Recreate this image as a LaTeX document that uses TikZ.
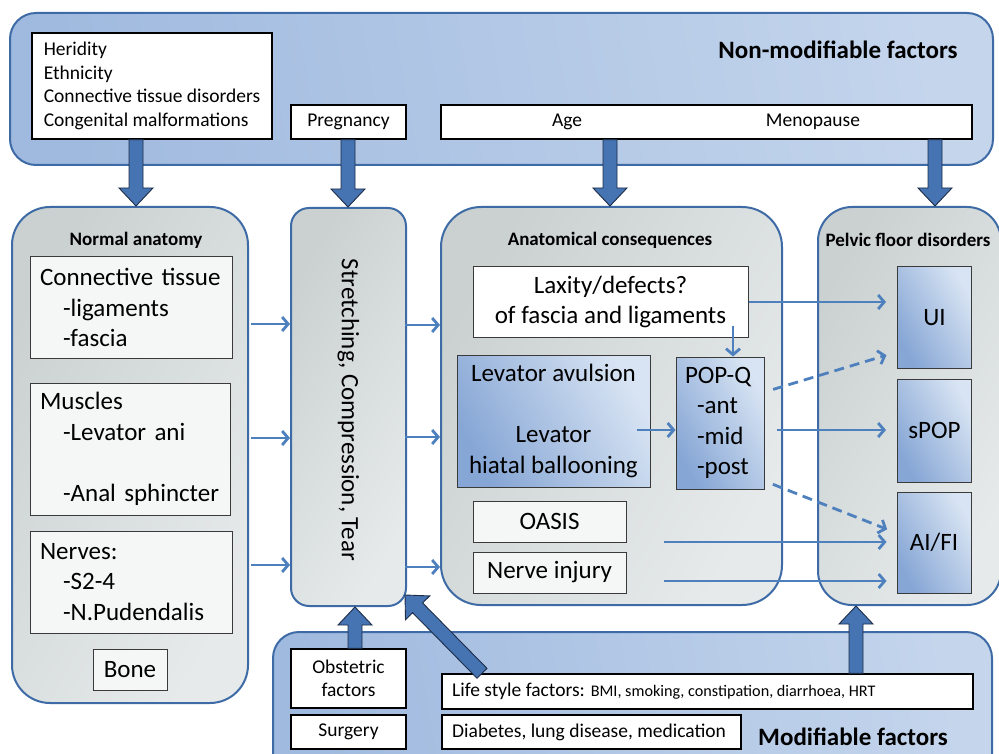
\documentclass[tikz,border=0pt]{standalone}
\usepackage{fontspec}
\setmainfont{Carlito}
\usetikzlibrary{arrows.meta,calc}

\definecolor{panelline}{HTML}{3E6BA6}
\definecolor{topA}{HTML}{A0BADF}
\definecolor{topB}{HTML}{C4D5EC}
\definecolor{grayA}{HTML}{CBD1D1}
\definecolor{grayB}{HTML}{E6EAEA}
\definecolor{blueA}{HTML}{86A6D5}
\definecolor{blueB}{HTML}{D8E4F3}
\definecolor{arrowfill}{HTML}{4673B2}
\definecolor{arrowedge}{HTML}{1E2D48}
\definecolor{thinblue}{HTML}{4E80BE}
\definecolor{boxedge}{HTML}{3A3A3A}
\definecolor{boxfill}{HTML}{F5F6F6}

\newcommand\blockarrow[2]{%
  \coordinate (ba-h) at ($(#2)!18pt!(#1)$);
  \filldraw[bigarrow] ($(#1)!7pt!90:(#2)$) -- ($(ba-h)!7pt!90:(#2)$) -- ($(ba-h)!17pt!90:(#2)$) -- (#2) -- ($(ba-h)!17pt!-90:(#2)$) -- ($(ba-h)!7pt!-90:(#2)$) -- ($(#1)!7pt!-90:(#2)$) -- cycle;
}

\tikzset{
  smallf/.style={font=\fontsize{19.5}{23.5}\selectfont},
  bigf/.style={font=\fontsize{25}{30.5}\selectfont},
  titlef/.style={font=\bfseries\fontsize{19}{22}\selectfont},
  headf/.style={font=\bfseries\fontsize{25}{28}\selectfont},
  bluepanel/.style={draw=panelline, line width=2pt, left color=topA, right color=topB, shading angle=100},
  graypanel/.style={draw=panelline, line width=2pt, left color=grayA, right color=grayB, shading angle=60},
  factorbox/.style={draw=black, line width=1.4pt, fill=white, inner sep=0pt, smallf},
  inbox/.style={draw=boxedge, line width=1pt, fill=boxfill, inner sep=0pt, bigf},
  bluebox/.style={draw=boxedge, line width=1pt, left color=blueA, right color=blueB, shading angle=120, inner sep=0pt, bigf},
  bigarrow/.style={fill=arrowfill, draw=arrowedge, line width=0.9pt, line join=miter},
  thinarr/.style={draw=thinblue, line width=2.8pt, -{Straight Barb[length=6pt,width=14pt]}},
  dasharr/.style={thinarr, dash pattern=on 10pt off 6pt},
}

\begin{document}
\begin{tikzpicture}[x=1pt, y=-1pt]
\useasboundingbox (0,0) rectangle (999,754);
\clip (0,0) rectangle (999,754);

% ---------- panels ----------
\node[bluepanel, rounded corners=26pt, minimum width=983pt, minimum height=152pt, inner sep=0pt] (nonmod) at (501.5,89) {};
\node[bluepanel, rounded corners=26pt, minimum width=719pt, minimum height=150pt, inner sep=0pt] (mod) at (632.5,707) {};
\node[graypanel, rounded corners=38pt, minimum width=236pt, minimum height=496pt, inner sep=0pt] (na) at (130,455) {};
\node[graypanel, rounded corners=18pt, minimum width=115pt, minimum height=398pt, inner sep=0pt] (st) at (348.5,407) {};
\node[graypanel, rounded corners=40pt, minimum width=341pt, minimum height=398pt, inner sep=0pt] (ac) at (611.5,406) {};
\node[graypanel, rounded corners=34pt, minimum width=183pt, minimum height=398pt, inner sep=0pt] (pf) at (909.5,406) {};

% ---------- headings ----------
\node[headf] (nmtitle) at (838,50) {Non-modifiable factors};
\node[headf] (mtitle) at (853,737) {Modifiable factors};
\node[titlef] (natitle) at (136,240) {Normal anatomy};
\node[titlef] (actitle) at (610,240) {Anatomical consequences};
\node[titlef] (pftitle) at (908,240) {Pelvic floor disorders};
\node[bigf, rotate=-90] (sttext) at (348.5,410) {Stretching, Compression, Tear};

% ---------- factor boxes ----------
\node[factorbox, minimum width=240pt, minimum height=106pt, align=left] (her) at (152,86)
  {Heridity\\Ethnicity\\Connective tissue disorders\\Congenital malformations};
\node[factorbox, minimum width=115pt, minimum height=34pt] (preg) at (348.5,122) {Pregnancy};
\node[factorbox, minimum width=531pt, minimum height=34pt] (agebox) at (706.5,122) {};
\node[smallf] (agetext) at (567,122) {Age};
\node[smallf] (menotext) at (813,122) {Menopause};

\node[factorbox, minimum width=115pt, minimum height=59pt, align=center, font=\fontsize{19.5}{23}\selectfont] (obst) at (348.5,678.5) {Obstetric\\factors};
\node[factorbox, minimum width=115pt, minimum height=34pt] (surg) at (348.5,732) {Surgery};
\node[factorbox, minimum width=531pt, minimum height=35pt] (life) at (707.5,691.5) {};
\node[smallf, anchor=west, inner sep=0pt] (lifetext) at (452,691.5)
  {Life style factors: {\fontsize{16.2}{18}\selectfont BMI, smoking, constipation, diarrhoea, HRT}};
\node[factorbox, minimum width=299pt, minimum height=34pt] (diab) at (591.5,732) {};
\node[smallf, anchor=west, inner sep=0pt] (diabtext) at (452,732) {Diabetes, lung disease, medication};

% ---------- big arrows ----------
\coordinate (a1s) at (136,0 |- her.south);
\coordinate (a1e) at (136,0 |- na.north);
\coordinate (a2s) at (348,0 |- preg.south);
\coordinate (a2e) at (348,0 |- st.north);
\coordinate (a3s) at (610,0 |- agebox.south);
\coordinate (a3e) at (610,0 |- ac.north);
\coordinate (a4s) at (935,0 |- agebox.south);
\coordinate (a4e) at (935,0 |- pf.north);
\coordinate (a5s) at (355,0 |- obst.north);
\coordinate (a5e) at (355,0 |- st.south);
\coordinate (a6s) at (482,0 |- life.north);
\coordinate (a6e) at (405,595);
\coordinate (a7s) at (856,0 |- life.north);
\coordinate (a7e) at (856,0 |- pf.south);
\blockarrow{a1s}{a1e}
\blockarrow{a2s}{a2e}
\blockarrow{a3s}{a3e}
\blockarrow{a4s}{a4e}
\blockarrow{a5s}{a5e}
\blockarrow{a6s}{a6e}
\blockarrow{a7s}{a7e}

% ---------- normal anatomy boxes ----------
\node[inbox, minimum width=202pt, minimum height=101pt, text width=182pt, align=left] (ct) at (131,307.5)
  {Connective tissue\\\hspace*{23pt}-ligaments\\\hspace*{23pt}-fascia};
\node[inbox, minimum width=200pt, minimum height=132pt, text width=180pt, align=left] (mus) at (130,449)
  {Muscles\\\hspace*{23pt}-Levator ani\\[30.5pt]\hspace*{23pt}-Anal sphincter};
\node[inbox, minimum width=202pt, minimum height=102pt, text width=182pt, align=left] (nerv) at (131,582)
  {Nerves:\\\hspace*{23pt}-S2-4\\\hspace*{23pt}-N.Pudendalis};
\node[inbox, minimum width=74pt, minimum height=41pt] (bone) at (130,669.5) {Bone};

% ---------- anatomical consequences ----------
\node[inbox, fill=white, minimum width=275pt, minimum height=70pt, align=center] (lax) at (610.5,302)
  {Laxity/defects?\\of fascia and ligaments};
\node[bluebox, minimum width=193pt, minimum height=132pt, align=center] (lev) at (553.5,421)
  {Levator avulsion\\[30.5pt]Levator\\hiatal ballooning};
\node[bluebox, minimum width=88pt, minimum height=132pt, text width=70pt, align=left] (pop) at (720,423)
  {POP-Q\\\hspace*{12pt}-ant\\\hspace*{12pt}-mid\\\hspace*{12pt}-post};
\node[inbox, minimum width=153pt, minimum height=41pt] (oasis) at (549.5,521.5) {OASIS};
\node[inbox, minimum width=153pt, minimum height=41pt] (nerveinj) at (549.5,572.5) {Nerve injury};

% ---------- pelvic floor disorders ----------
\node[bluebox, minimum width=74pt, minimum height=101pt] (ui) at (934.5,317.5) {UI};
\node[bluebox, minimum width=74pt, minimum height=103pt] (spop) at (934.5,430.5) {sPOP};
\node[bluebox, minimum width=74pt, minimum height=101pt] (aifi) at (934,542.5) {AI/FI};

% ---------- thin arrows ----------
\draw[thinarr, shorten <=2pt] (na.east |- 0,324) -- (st.west |- 0,324);
\draw[thinarr, shorten <=2pt] (na.east |- 0,438) -- (st.west |- 0,438);
\draw[thinarr, shorten <=2pt] (na.east |- 0,565) -- (st.west |- 0,565);
\draw[thinarr, shorten <=-2pt] (st.east |- 0,325) -- (ac.west |- 0,325);
\draw[thinarr, shorten <=-2pt] (st.east |- 0,437) -- (ac.west |- 0,437);
\draw[thinarr, shorten <=-2pt] (st.east |- 0,567) -- (ac.west |- 0,567);

\draw[thinarr, shorten >=11pt] (lax.east |- 0,302) -- (ui.west |- 0,302);
\draw[thinarr, shorten <=-12pt] (733,0 |- lax.south) -- (733,0 |- pop.north);
\draw[thinarr, shorten <=-14pt] (lev.east |- 0,430) -- (pop.west |- 0,430);
\draw[dasharr, shorten <=9pt, shorten >=11pt] (pop.east |- 0,392) -- (ui.west |- 0,352);
\draw[thinarr, shorten <=12pt, shorten >=11pt] (pop.east |- 0,430) -- (spop.west |- 0,430);
\draw[dasharr, shorten <=9pt, shorten >=10pt] (pop.east |- 0,481) -- (aifi.west |- 0,533);
\draw[thinarr, shorten <=37pt, shorten >=10pt] (oasis.east |- 0,542) -- (aifi.west |- 0,542);
\draw[thinarr, shorten <=37pt, shorten >=10pt] (nerveinj.east |- 0,581) -- (aifi.west |- 0,581);
\end{tikzpicture}
\end{document}
